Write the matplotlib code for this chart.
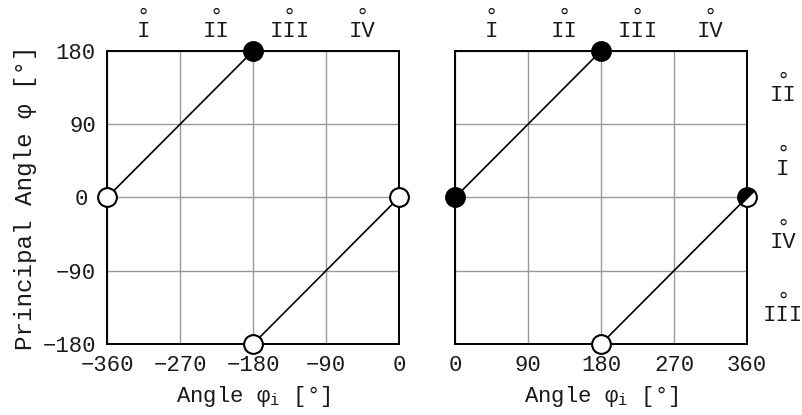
import matplotlib
matplotlib.use("Agg")
import matplotlib.pyplot as plt
from matplotlib.markers import MarkerStyle
from matplotlib.transforms import Affine2D, ScaledTranslation

plt.rcParams["font.family"] = ["Liberation Mono", "DejaVu Sans Mono"]
plt.rcParams["mathtext.fontset"] = "custom"
plt.rcParams["mathtext.rm"] = "Liberation Mono"
plt.rcParams["mathtext.it"] = "Liberation Mono"

# left panel: negative input angles
left_xticks = [-360, -270, -180, -90, 0]
left_seg1_x = [-360, -180]
left_seg1_y = [0, 180]
left_seg2_x = [-180, 0]
left_seg2_y = [-180, 0]
left_open_x = [-360, -180, 0]
left_open_y = [0, -180, 0]
left_filled_x = [-180]
left_filled_y = [180]

# right panel: positive input angles
right_xticks = [0, 90, 180, 270, 360]
right_seg1_x = [0, 180]
right_seg1_y = [0, 180]
right_seg2_x = [180, 360]
right_seg2_y = [-180, 0]
right_open_x = [180]
right_open_y = [-180]
right_filled_x = [0, 180]
right_filled_y = [0, 180]
right_half_x = [360]
right_half_y = [0]

yticks = [-180, -90, 0, 90, 180]
quad_labels = ["I", "II", "III", "IV"]
side_labels = ["II", "I", "IV", "III"]
side_label_y = [135, 45, -45, -135]

FS = 16
MS = 13.5
TXT = "#1a1a1a"


def ringed(ax, x, y, label, transform):
    # roman numeral with a small ring centred above it
    ax.text(x, y, "°\n" + label, transform=transform, ha="center", va="bottom",
            multialignment="center", linespacing=0.6, fontsize=FS, color=TXT,
            clip_on=False)


def setup(ax, xticks):
    ax.set_xlim(xticks[0], xticks[-1])
    ax.set_ylim(-180, 180)
    ax.set_xticks(xticks)
    ax.set_yticks(yticks)
    ax.grid(True, color="#9a9a9a", linewidth=1.0)
    ax.set_axisbelow(True)
    ax.tick_params(length=0, pad=8, labelsize=FS, colors=TXT)
    for s in ax.spines.values():
        s.set_linewidth(1.4)
    ax.set_xticklabels([f"{t}".replace("-", "\u2212") for t in xticks])
    ax.set_xlabel(r"Angle φ$_{\mathrm{i}}$ [°]", fontsize=FS, labelpad=6, color=TXT)
    # quadrant numbers across the top
    step = (xticks[-1] - xticks[0]) / 4
    for i, lab in enumerate(quad_labels):
        xc = xticks[0] + step * (i + 0.5)
        ringed(ax, xc, 1.031, lab, ax.get_xaxis_transform())


fig = plt.figure(figsize=(8.03, 4.15), dpi=100)
axl = fig.add_axes([0.1333, 0.1711, 0.3636, 0.706])
axr = fig.add_axes([0.5666, 0.1711, 0.3636, 0.706])

setup(axl, left_xticks)
setup(axr, right_xticks)

line_kw = dict(color="black", linewidth=1.2, zorder=3)
open_kw = dict(linestyle="none", marker="o", markersize=MS, markerfacecolor="white",
               markeredgecolor="black", markeredgewidth=1.5, clip_on=False, zorder=4)
fill_kw = dict(open_kw, markerfacecolor="black")

axl.plot(left_seg1_x, left_seg1_y, **line_kw)
axl.plot(left_seg2_x, left_seg2_y, **line_kw)
axl.plot(left_open_x, left_open_y, **open_kw)
axl.plot(left_filled_x, left_filled_y, **fill_kw)

axr.plot(right_seg1_x, right_seg1_y, **line_kw)
axr.plot(right_seg2_x, right_seg2_y, **line_kw)
axr.plot(right_open_x, right_open_y, **open_kw)
axr.plot(right_filled_x, right_filled_y, **fill_kw)
half = MarkerStyle("o", fillstyle="left", transform=Affine2D().rotate_deg(-45))
axr.plot(right_half_x, right_half_y, linestyle="none", marker=half, markersize=MS,
         markerfacecolor="black", markerfacecoloralt="white", markeredgecolor="black",
         markeredgewidth=1.5, clip_on=False, zorder=4)

axl.set_yticklabels([f"{t}".replace("-", "\u2212") for t in yticks])
# nudge the zero label clear of the marker on the spine
zero_lab = axl.get_yticklabels()[yticks.index(0)]
zero_lab.set_transform(zero_lab.get_transform()
                       + ScaledTranslation(-8 / 100, 0, fig.dpi_scale_trans))
axl.set_ylabel("Principal Angle φ [°]", fontsize=17.5, labelpad=4, color=TXT)
axr.set_yticklabels([])

# quadrant numbers down the right side
for lab, yv in zip(side_labels, side_label_y):
    ringed(axr, 1.123, yv - 23, lab, axr.get_yaxis_transform())

fig.savefig("out.png", dpi=100)
